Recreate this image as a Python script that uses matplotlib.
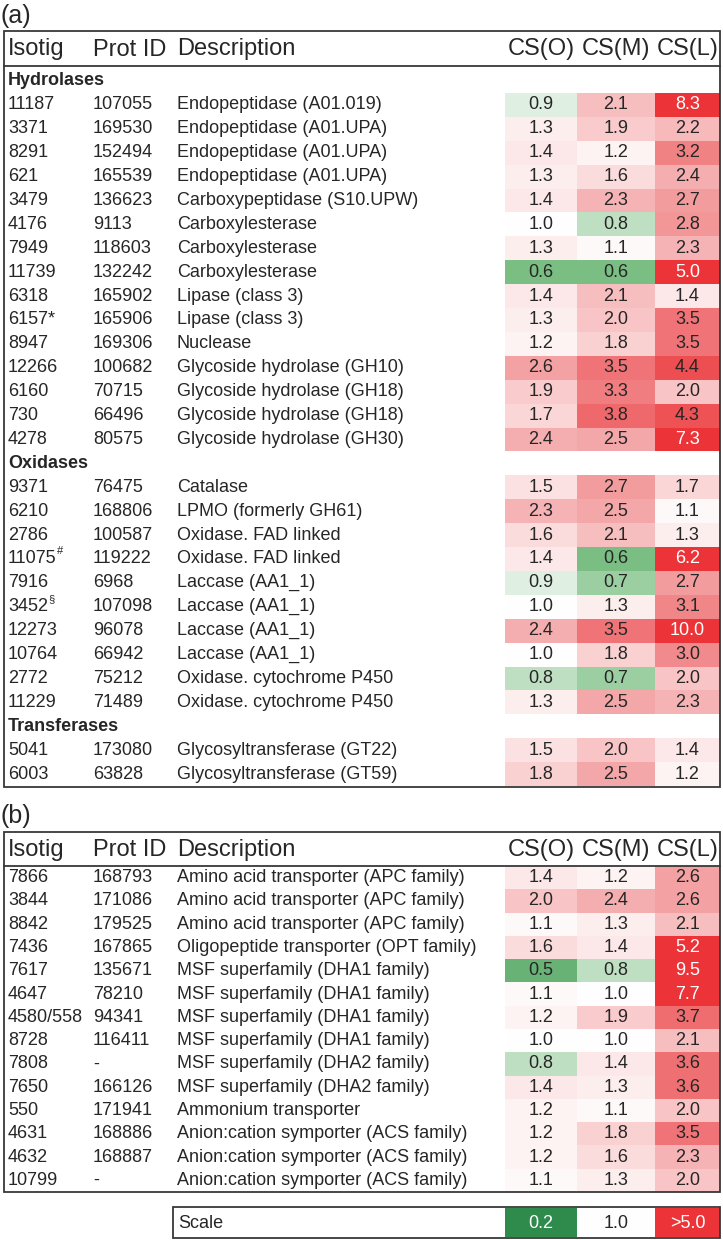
import numpy as np
import matplotlib
matplotlib.use("Agg")
import matplotlib.pyplot as plt
from matplotlib.colors import LinearSegmentedColormap, TwoSlopeNorm
from matplotlib.patches import Rectangle

plt.rcParams['font.family'] = ['Liberation Sans', 'DejaVu Sans']

# ---------------- data ----------------
headers = ["Isotig", "Prot ID", "Description", "CS(O)", "CS(M)", "CS(L)"]

# panel (a)
a_categories = ["Hydrolases", "Oxidases", "Transferases"]
a_isotig = [
    ["11187", "3371", "8291", "621", "3479", "4176", "7949", "11739", "6318", "6157*",
     "8947", "12266", "6160", "730", "4278"],
    ["9371", "6210", "2786", "11075", "7916", "3452", "12273", "10764", "2772", "11229"],
    ["5041", "6003"],
]
a_sup = [
    [""] * 15,
    ["", "", "", "#", "", "\u00a7", "", "", "", ""],
    ["", ""],
]
a_protid = [
    ["107055", "169530", "152494", "165539", "136623", "9113", "118603", "132242", "165902",
     "165906", "169306", "100682", "70715", "66496", "80575"],
    ["76475", "168806", "100587", "119222", "6968", "107098", "96078", "66942", "75212", "71489"],
    ["173080", "63828"],
]
a_desc = [
    ["Endopeptidase (A01.019)", "Endopeptidase (A01.UPA)", "Endopeptidase (A01.UPA)",
     "Endopeptidase (A01.UPA)", "Carboxypeptidase (S10.UPW)", "Carboxylesterase",
     "Carboxylesterase", "Carboxylesterase", "Lipase (class 3)", "Lipase (class 3)",
     "Nuclease", "Glycoside hydrolase (GH10)", "Glycoside hydrolase (GH18)",
     "Glycoside hydrolase (GH18)", "Glycoside hydrolase (GH30)"],
    ["Catalase", "LPMO (formerly GH61)", "Oxidase. FAD linked", "Oxidase. FAD linked",
     "Laccase (AA1_1)", "Laccase (AA1_1)", "Laccase (AA1_1)", "Laccase (AA1_1)",
     "Oxidase. cytochrome P450", "Oxidase. cytochrome P450"],
    ["Glycosyltransferase (GT22)", "Glycosyltransferase (GT59)"],
]
a_cs_o = [
    [0.9, 1.3, 1.4, 1.3, 1.4, 1.0, 1.3, 0.6, 1.4, 1.3, 1.2, 2.6, 1.9, 1.7, 2.4],
    [1.5, 2.3, 1.6, 1.4, 0.9, 1.0, 2.4, 1.0, 0.8, 1.3],
    [1.5, 1.8],
]
a_cs_m = [
    [2.1, 1.9, 1.2, 1.6, 2.3, 0.8, 1.1, 0.6, 2.1, 2.0, 1.8, 3.5, 3.3, 3.8, 2.5],
    [2.7, 2.5, 2.1, 0.6, 0.7, 1.3, 3.5, 1.8, 0.7, 2.5],
    [2.0, 2.5],
]
a_cs_l = [
    [8.3, 2.2, 3.2, 2.4, 2.7, 2.8, 2.3, 5.0, 1.4, 3.5, 3.5, 4.4, 2.0, 4.3, 7.3],
    [1.7, 1.1, 1.3, 6.2, 2.7, 3.1, 10.0, 3.0, 2.0, 2.3],
    [1.4, 1.2],
]

# panel (b)
b_isotig = ["7866", "3844", "8842", "7436", "7617", "4647", "4580/558", "8728", "7808",
            "7650", "550", "4631", "4632", "10799"]
b_protid = ["168793", "171086", "179525", "167865", "135671", "78210", "94341", "116411",
            "-", "166126", "171941", "168886", "168887", "-"]
b_desc = ["Amino acid transporter (APC family)", "Amino acid transporter (APC family)",
          "Amino acid transporter (APC family)", "Oligopeptide transporter (OPT family)",
          "MSF superfamily (DHA1 family)", "MSF superfamily (DHA1 family)",
          "MSF superfamily (DHA1 family)", "MSF superfamily (DHA1 family)",
          "MSF superfamily (DHA2 family)", "MSF superfamily (DHA2 family)",
          "Ammonium transporter", "Anion:cation symporter (ACS family)",
          "Anion:cation symporter (ACS family)", "Anion:cation symporter (ACS family)"]
b_cs_o = [1.4, 2.0, 1.1, 1.6, 0.5, 1.1, 1.2, 1.0, 0.8, 1.4, 1.2, 1.2, 1.2, 1.1]
b_cs_m = [1.2, 2.4, 1.3, 1.4, 0.8, 1.0, 1.9, 1.0, 1.4, 1.3, 1.1, 1.8, 1.6, 1.3]
b_cs_l = [2.6, 2.6, 2.1, 5.2, 9.5, 7.7, 3.7, 2.1, 3.6, 3.6, 2.0, 3.5, 2.3, 2.0]

scale_values = [0.2, 1.0, 5.0]
scale_labels = ["0.2", "1.0", ">5.0"]

# ---------------- style ----------------
TXT = "#262626"
EDGE = "#383838"
GREEN = "#2E8B4C"
RED = "#EC3438"
cmap = LinearSegmentedColormap.from_list(
    "gwr",
    [(0.0, GREEN), (0.25, "#7CBF84"), (0.5, "#FFFFFF"), (0.75, "#F18B8D"), (1.0, RED)])
norm = TwoSlopeNorm(vmin=0.2, vcenter=1.0, vmax=5.0)
cm_bad = cmap.with_extremes(bad=(1, 1, 1, 0), over=RED, under=GREEN)
FS_ROW = 13
FS_HEAD = 17

fig = plt.figure(figsize=(7.23, 12.4), dpi=100)
ax = fig.add_axes([0, 0, 1, 1])
ax.set_xlim(0, 723)
ax.set_ylim(1240, 0)
ax.axis("off")

x_iso, x_pid, x_desc = 8, 93, 177
col_edges = np.array([505, 577, 655, 720])
col_centers = (col_edges[:-1] + col_edges[1:]) / 2


def draw_header(y_top, y_line, box_bottom):
    ax.add_patch(Rectangle((4, y_top), 716, box_bottom - y_top, fill=False,
                           edgecolor=EDGE, lw=1.3, zorder=5))
    ax.plot([4, 720], [y_line, y_line], color=EDGE, lw=1.3, zorder=5)
    yc = (y_top + y_line) / 2 + 1
    for x, t in zip([x_iso, x_pid, x_desc], headers[:3]):
        ax.text(x, yc, t, fontsize=FS_HEAD, color=TXT, ha="left", va="center")
    for x, t in zip(col_centers, headers[3:]):
        ax.text(x, yc, t, fontsize=FS_HEAD, color=TXT, ha="center", va="center")


def value_text(x, y, v):
    c = "white" if v >= 5.0 else TXT
    ax.text(x, y, f"{v:.1f}", fontsize=FS_ROW, color=c, ha="center", va="center", zorder=4)


# ---------------- panel (a) ----------------
ax.text(0, 16, "(a)", fontsize=FS_HEAD + 1, color=TXT, ha="left", va="center")
a_top, a_line, a_rows_top, a_h = 31, 66, 69, 23.9
n_a = sum(len(g) + 1 for g in a_isotig)
a_bottom = a_rows_top + n_a * a_h + 1
draw_header(a_top, a_line, a_bottom)

grid_a = np.full((n_a, 3), np.nan)
r = 0
for g, cat in enumerate(a_categories):
    yc = a_rows_top + (r + 0.5) * a_h
    ax.text(x_iso, yc, cat, fontsize=FS_ROW, fontweight="bold", color=TXT, ha="left", va="center")
    r += 1
    for i in range(len(a_isotig[g])):
        yc = a_rows_top + (r + 0.5) * a_h
        t = ax.text(x_iso, yc, a_isotig[g][i], fontsize=FS_ROW, color=TXT, ha="left", va="center")
        if a_sup[g][i]:
            ax.annotate(a_sup[g][i], xy=(1.0, 0.95), xycoords=t, fontsize=8, color=TXT,
                        ha="left", va="center")
        ax.text(x_pid, yc, a_protid[g][i], fontsize=FS_ROW, color=TXT, ha="left", va="center")
        ax.text(x_desc, yc, a_desc[g][i], fontsize=FS_ROW, color=TXT, ha="left", va="center")
        vals = [a_cs_o[g][i], a_cs_m[g][i], a_cs_l[g][i]]
        grid_a[r] = vals
        for x, v in zip(col_centers, vals):
            value_text(x, yc, v)
        r += 1

y_edges_a = a_rows_top + np.arange(n_a + 1) * a_h
ax.pcolormesh(col_edges, y_edges_a, np.ma.masked_invalid(grid_a), cmap=cm_bad, norm=norm,
              zorder=1, shading="flat")

# ---------------- panel (b) ----------------
ax.text(0, 816, "(b)", fontsize=FS_HEAD + 1, color=TXT, ha="left", va="center")
b_top, b_line = 832, 866
n_b = len(b_isotig)
b_h = 23.29
b_bottom = b_line + n_b * b_h
draw_header(b_top, b_line, b_bottom)
grid_b = np.column_stack([b_cs_o, b_cs_m, b_cs_l])
y_edges_b = b_line + np.arange(n_b + 1) * b_h
ax.pcolormesh(col_edges, y_edges_b, grid_b, cmap=cm_bad, norm=norm, zorder=1, shading="flat")
for i in range(n_b):
    yc = b_line + (i + 0.5) * b_h
    ax.text(x_iso, yc, b_isotig[i], fontsize=FS_ROW, color=TXT, ha="left", va="center")
    ax.text(x_pid, yc, b_protid[i], fontsize=FS_ROW, color=TXT, ha="left", va="center")
    ax.text(x_desc, yc, b_desc[i], fontsize=FS_ROW, color=TXT, ha="left", va="center")
    for x, v in zip(col_centers, grid_b[i]):
        value_text(x, yc, v)

# ---------------- scale ----------------
s_top, s_bot = 1207, 1238
ax.add_patch(Rectangle((173, s_top), 547, s_bot - s_top, fill=False, edgecolor=EDGE,
                       lw=1.3, zorder=5))
ax.pcolormesh(col_edges, [s_top + 1, s_bot - 1], np.array([scale_values]), cmap=cm_bad,
              norm=norm, zorder=1, shading="flat")
sy = (s_top + s_bot) / 2 + 1
ax.text(178, sy, "Scale", fontsize=FS_ROW, color=TXT, ha="left", va="center")
for x, v, lab in zip(col_centers, scale_values, scale_labels):
    c = "white" if (v >= 5.0 or v <= 0.2) else TXT
    ax.text(x, sy, lab, fontsize=FS_ROW, color=c, ha="center", va="center", zorder=4)

fig.savefig("out.png", dpi=100)
